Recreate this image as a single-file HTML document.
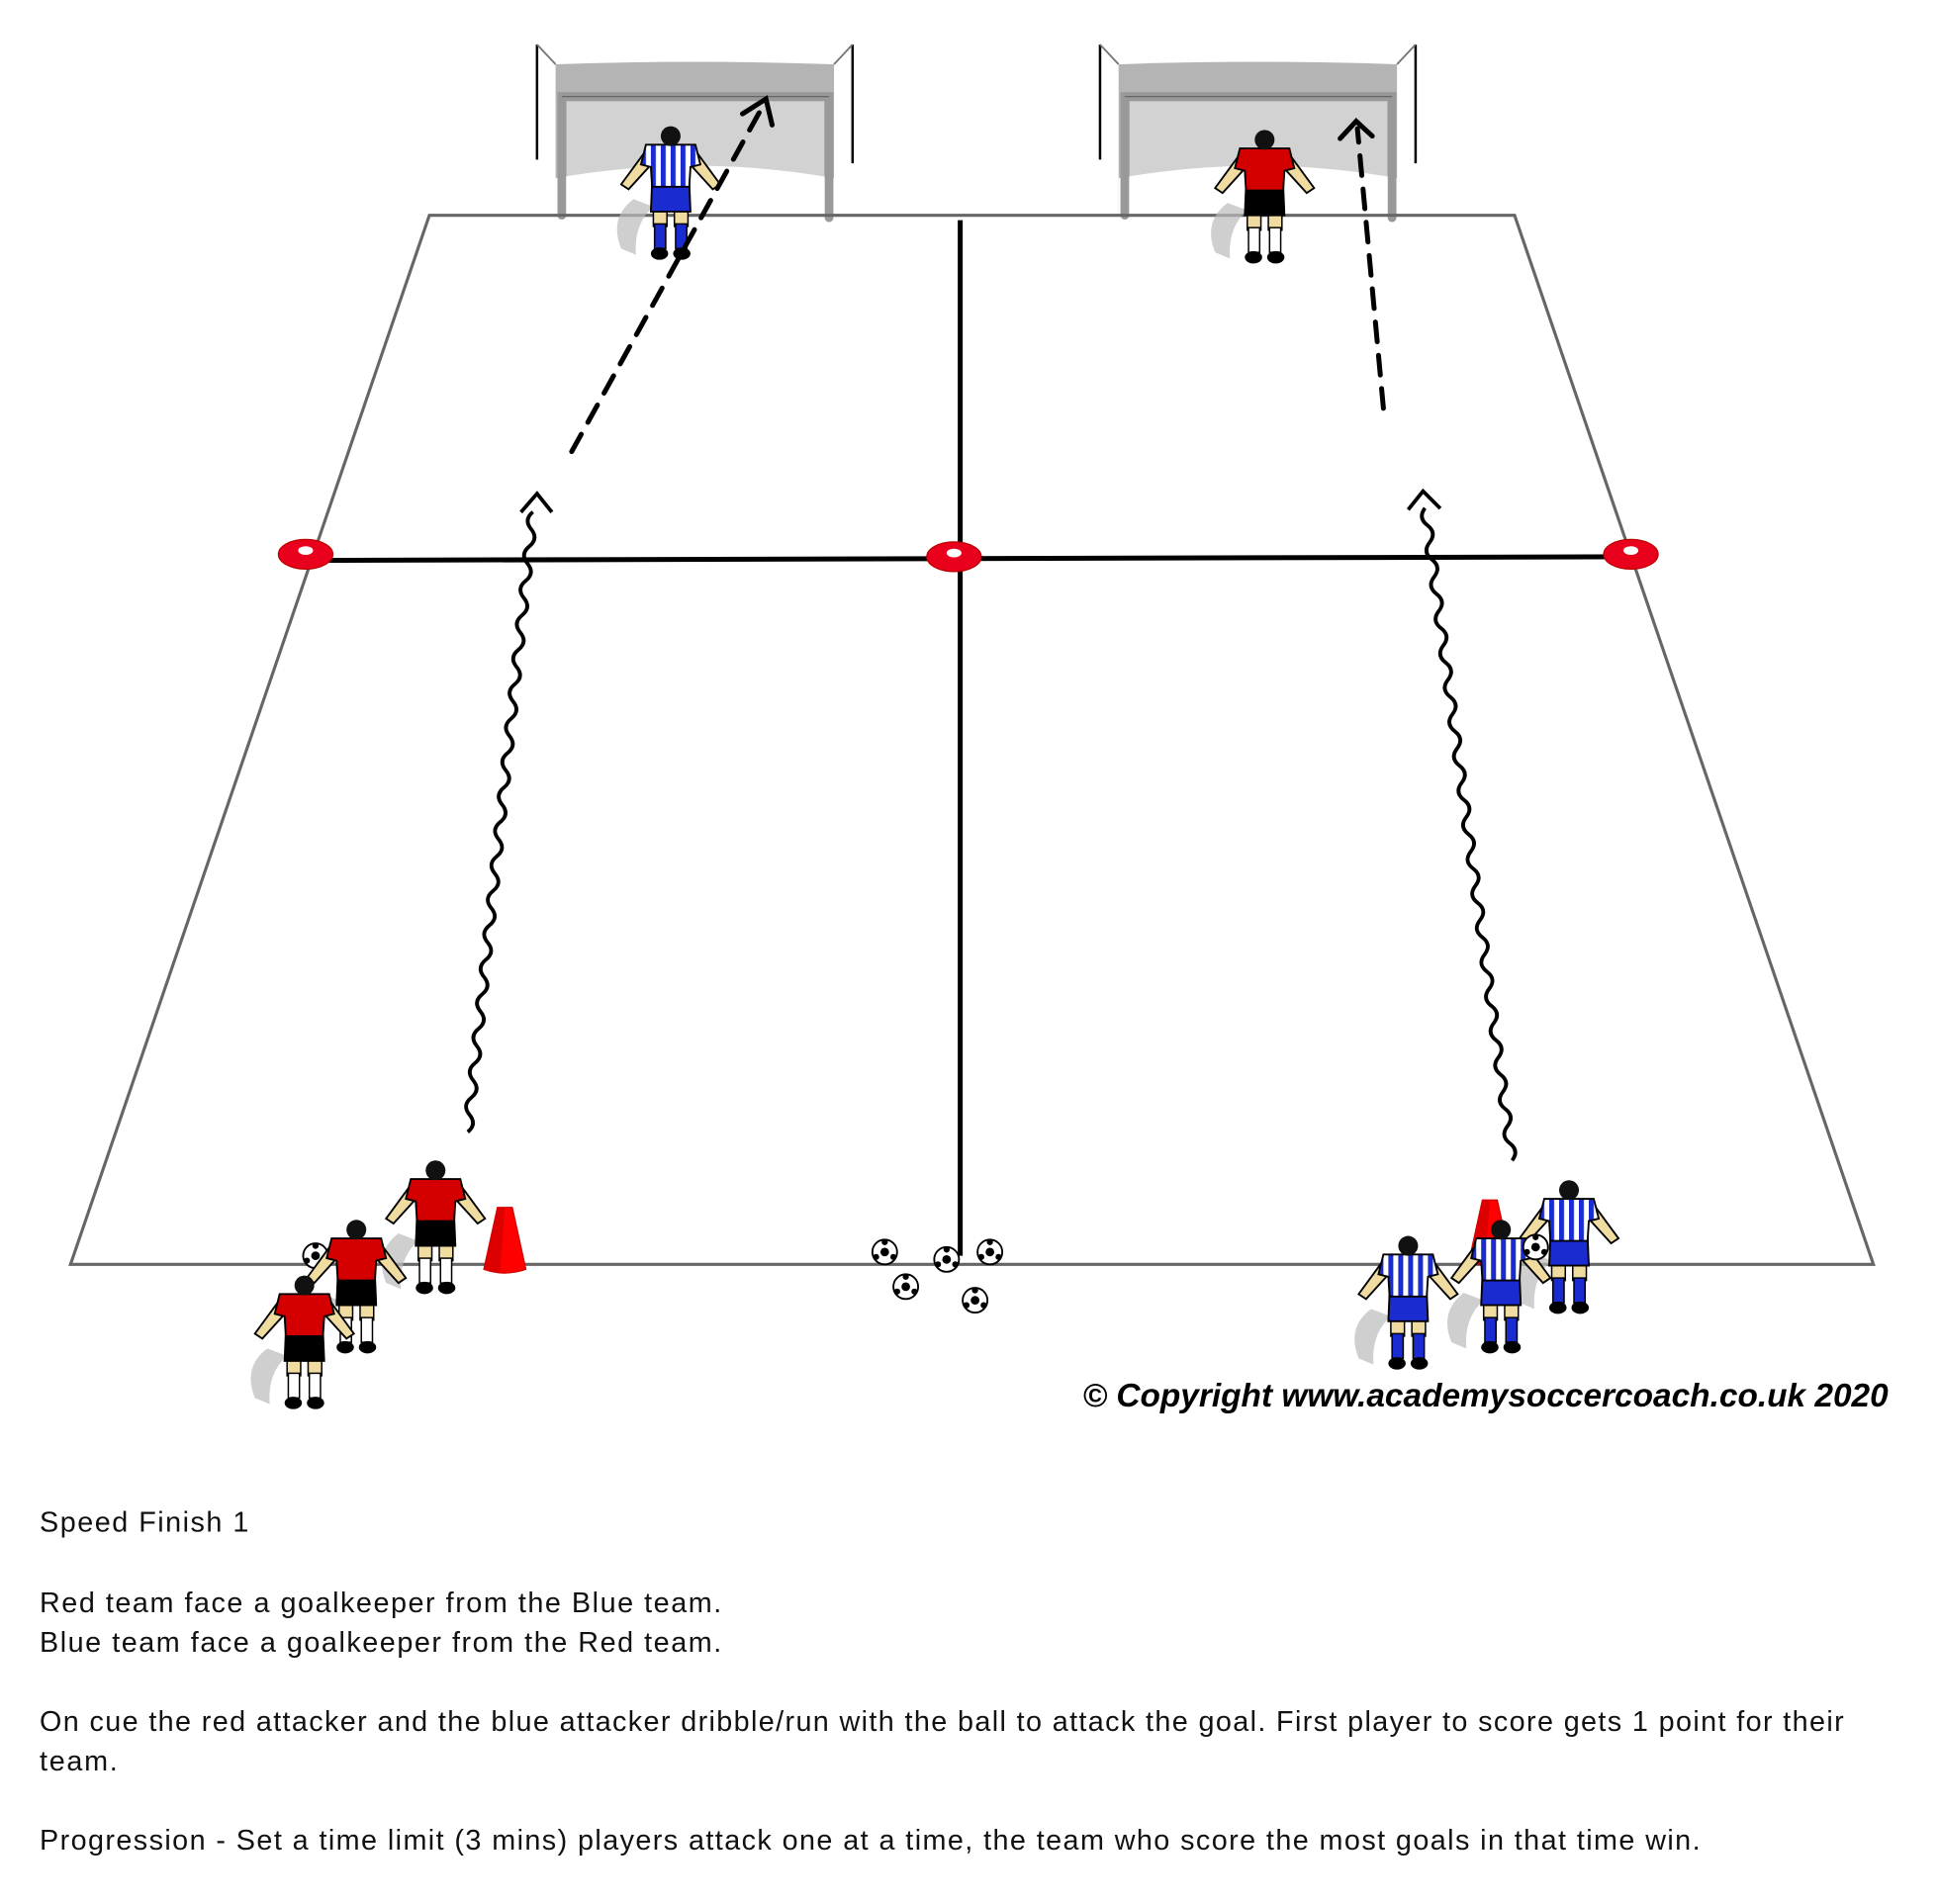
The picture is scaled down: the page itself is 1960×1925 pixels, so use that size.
<!DOCTYPE html>
<html><head><meta charset="utf-8"><style>
html,body{margin:0;padding:0;background:#fff;}
svg{display:block}
</style></head><body>
<svg width="1960" height="1925" viewBox="0 0 1567 1539" preserveAspectRatio="none" xmlns="http://www.w3.org/2000/svg">
<defs>
<pattern id="stripe" width="8" height="10" patternUnits="userSpaceOnUse"><rect width="8" height="10" fill="#fff"/><rect width="4" height="10" fill="#1a2bd0"/></pattern>
<g id="pl">
  <path d="M-30 60 Q-50 75 -40 100 L-28 105 Q-30 80 -14 66Z" fill="#bbb" opacity="0.7"/>
  <path d="M-18 18 L-40 48 L-34 52 L-14 30Z" fill="#f0dca0" stroke="#000" stroke-width="1.5"/>
  <path d="M18 18 L40 48 L34 52 L14 30Z" fill="#f0dca0" stroke="#000" stroke-width="1.5"/>
  <rect x="-14" y="66" width="11" height="16" fill="#f0dca0" stroke="#000" stroke-width="1.2"/>
  <rect x="3" y="66" width="11" height="16" fill="#f0dca0" stroke="#000" stroke-width="1.2"/>
  <rect x="-13" y="80" width="9" height="20" style="fill:var(--sock)" stroke="#000" stroke-width="1.2"/>
  <rect x="4" y="80" width="9" height="20" style="fill:var(--sock)" stroke="#000" stroke-width="1.2"/>
  <ellipse cx="-9" cy="104" rx="7" ry="5" fill="#000"/>
  <ellipse cx="9" cy="104" rx="7" ry="5" fill="#000"/>
  <path d="M-15 46 L15 46 L16 70 L-16 70Z" style="fill:var(--shorts)" stroke="#000" stroke-width="1.5"/>
  <path d="M-20 16 L20 16 L24 32 L16 34 L15 50 L-15 50 L-16 34 L-24 32Z" style="fill:var(--shirt)" stroke="#000" stroke-width="1.5"/>
  <circle cx="0" cy="9" r="8" fill="#111"/>
</g>
<g id="ball"><circle r="10" fill="#fff" stroke="#000" stroke-width="1.5"/><circle r="3.5" fill="#000"/><circle cx="0" cy="-8" r="2.5" fill="#000"/><circle cx="7" cy="4" r="2.5" fill="#000"/><circle cx="-7" cy="4" r="2.5" fill="#000"/></g>
<g id="goal">
  <line x1="0" y1="32" x2="0" y2="125" stroke="#000" stroke-width="2"/>
  <line x1="0" y1="32" x2="15" y2="48" stroke="#777" stroke-width="1.5"/>
  <line x1="255" y1="32" x2="255" y2="128" stroke="#000" stroke-width="2"/>
  <line x1="255" y1="32" x2="240" y2="48" stroke="#777" stroke-width="1.5"/>
  <path d="M15 48 Q128 44 240 48 L240 170 L15 170Z" fill="#b4b4b4"/>
  <path d="M24 78 L232 78 L232 145 Q128 125 24 140Z" fill="#d2d2d2"/>
  <path d="M15 140 Q128 120 240 140 L240 170 L15 170Z" fill="#fff"/>
  <path d="M20 170 L20 74 L236 74 L236 172" fill="none" stroke="#999" stroke-width="7" stroke-linecap="round"/>
  <path d="M20 74 L236 74" stroke="#666" stroke-width="1"/>
</g>
<g id="cone"><path d="M-6 0 L6 0 L17 50 Q0 56 -17 50Z" fill="#f00" stroke="#c00" stroke-width="1"/><path d="M-6 0 L0 0 L-4 53 Q-12 52 -17 50Z" fill="#d00"/></g>
</defs>

<use href="#goal" x="434" y="4"/>
<use href="#goal" x="889" y="4"/>

<path d="M347 174 L1224 174 L1514 1022 L57 1022Z" fill="none" stroke="#666" stroke-width="2.5"/>
<line x1="776" y1="178" x2="776" y2="1015" stroke="#000" stroke-width="4"/>
<line x1="248" y1="453" x2="1318" y2="450" stroke="#000" stroke-width="4"/>
<g fill="#e8001c" stroke="#b00" stroke-width="1">
<ellipse cx="247" cy="448" rx="22" ry="12"/><ellipse cx="771" cy="450" rx="22" ry="12"/><ellipse cx="1318" cy="448" rx="22" ry="12"/></g>
<g fill="#fff"><ellipse cx="247" cy="445" rx="6" ry="3.5"/><ellipse cx="771" cy="447" rx="6" ry="3.5"/><ellipse cx="1318" cy="445" rx="6" ry="3.5"/></g>

<use href="#pl" transform="translate(542,101)" style="--shirt:url(#stripe);--shorts:#1a2bd0;--sock:#1a2bd0"/>
<use href="#pl" transform="translate(1022,104)" style="--shirt:#d40000;--shorts:#000;--sock:#fff"/>

<g stroke="#000" stroke-width="4" fill="none" stroke-linecap="round">
<line x1="462" y1="365" x2="618" y2="83" stroke-dasharray="16 11"/>
<path d="M600 92 L619 80 L624 101"/>
<line x1="1118" y1="330" x2="1097" y2="104" stroke-dasharray="16 11"/>
<path d="M1083 112 L1096 98 L1109 110"/>
</g>

<g stroke="#000" stroke-width="3" fill="none">
<path transform="translate(378,915) rotate(6)" d="M0 0 q7 -7 0 -14 t0 -14 t0 -14 t0 -14 t0 -14 t0 -14 t0 -14 t0 -14 t0 -14 t0 -14 t0 -14 t0 -14 t0 -14 t0 -14 t0 -14 t0 -14 t0 -14 t0 -14 t0 -14 t0 -14 t0 -14 t0 -14 t0 -14 t0 -14 t0 -14 t0 -14 t0 -14 t0 -14 t0 -14 t0 -14 t0 -14 t0 -14 t0 -14 t0 -14 t0 -14 t0 -14"/>
<path d="M421 414 L434 399 L446 414"/>
<path transform="translate(1222,938) rotate(-7.6)" d="M0 0 q7 -7 0 -14 t0 -14 t0 -14 t0 -14 t0 -14 t0 -14 t0 -14 t0 -14 t0 -14 t0 -14 t0 -14 t0 -14 t0 -14 t0 -14 t0 -14 t0 -14 t0 -14 t0 -14 t0 -14 t0 -14 t0 -14 t0 -14 t0 -14 t0 -14 t0 -14 t0 -14 t0 -14 t0 -14 t0 -14 t0 -14 t0 -14 t0 -14 t0 -14 t0 -14 t0 -14 t0 -14 t0 -14 t0 -14"/>
<path d="M1138 412 L1150 397 L1164 411"/>
</g>

<use href="#cone" x="408" y="976"/>
<use href="#cone" x="1204" y="970"/>

<use href="#ball" x="715" y="1012"/><use href="#ball" x="765" y="1018"/><use href="#ball" x="800" y="1012"/>
<use href="#ball" x="732" y="1040"/><use href="#ball" x="788" y="1051"/>
<use href="#ball" x="255" y="1015"/>

<g style="--shirt:#d40000;--shorts:#000;--sock:#fff">
<use href="#pl" transform="translate(352,937)"/>
<use href="#pl" transform="translate(288,985)"/>
<use href="#pl" transform="translate(246,1030)"/>
</g>
<g style="--shirt:url(#stripe);--shorts:#1a2bd0;--sock:#1a2bd0">
<use href="#pl" transform="translate(1268,953)"/>
<use href="#pl" transform="translate(1213,985)"/>
<use href="#ball" x="1241" y="1008"/>
<use href="#pl" transform="translate(1138,998)"/>
</g>

<text x="875" y="1137" font-family="Liberation Sans, sans-serif" font-size="27" font-weight="bold" font-style="italic" fill="#000" textLength="651" lengthAdjust="spacingAndGlyphs">© Copyright www.academysoccercoach.co.uk 2020</text>

<g font-family="Liberation Sans, sans-serif" font-size="23" fill="#111" lengthAdjust="spacingAndGlyphs">
<text x="32" y="1238" textLength="169">Speed Finish 1</text>
<text x="32" y="1303" textLength="551">Red team face a goalkeeper from the Blue team.</text>
<text x="32" y="1335" textLength="551">Blue team face a goalkeeper from the Red team.</text>
<text x="32" y="1399" textLength="1458">On cue the red attacker and the blue attacker dribble/run with the ball to attack the goal. First player to score gets 1 point for their</text>
<text x="32" y="1431" textLength="63">team.</text>
<text x="32" y="1495" textLength="1342">Progression - Set a time limit (3 mins) players attack one at a time, the team who score the most goals in that time win.</text>
</g>
</svg>
</body></html>
